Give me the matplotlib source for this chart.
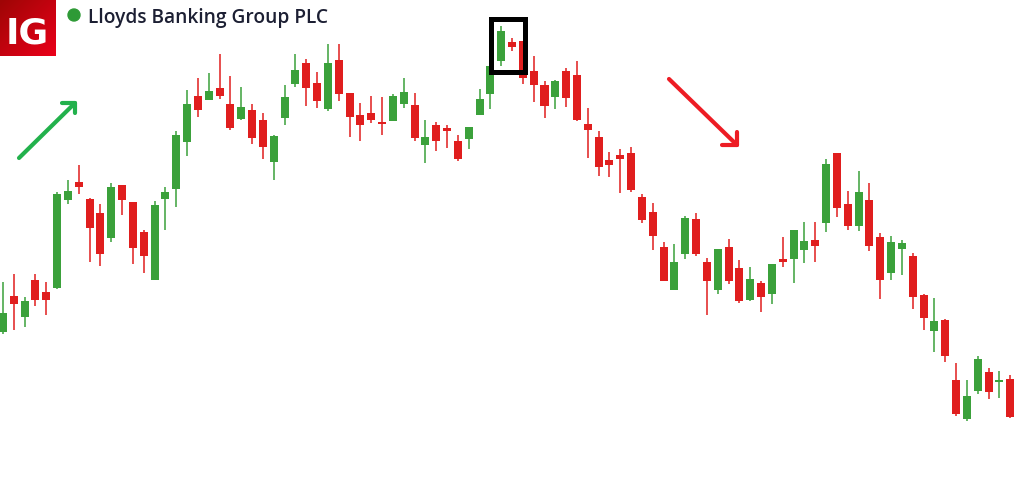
import numpy as np
import matplotlib
matplotlib.use("Agg")
import matplotlib.pyplot as plt
from matplotlib.lines import Line2D
from matplotlib.patches import Rectangle, Ellipse

# ---- data (price units) ----
opens = [154, 190, 169, 206, 194, 198, 286, 304, 287, 273, 248, 301, 284, 254, 206, 287, 297, 344, 390, 386,
         398, 382, 367, 376, 366, 324, 368, 402, 423, 403, 377, 426, 393, 371, 373, 363, 365, 382, 381, 341,
         361, 358, 345, 347, 371, 392, 425, 444, 445, 415, 401, 389, 415, 411, 362, 349, 326, 331, 333, 289,
         274, 239, 196, 232, 267, 224, 196, 239, 218, 186, 203, 192, 227, 227, 236, 246, 263, 333, 282, 260,
         286, 249, 213, 237, 230, 191, 155, 166, 106, 67, 95, 114, 104, 107]
highs = [204, 212, 189, 212, 204, 294, 306, 321, 288, 282, 303, 301, 284, 256, 285, 299, 355, 396, 408, 413,
         432, 410, 399, 382, 373, 351, 401, 432, 427, 414, 442, 442, 393, 383, 390, 389, 392, 408, 393, 366,
         364, 361, 351, 359, 397, 420, 460, 448, 445, 430, 405, 406, 418, 425, 378, 355, 334, 337, 339, 292,
         283, 244, 242, 270, 273, 228, 237, 247, 226, 219, 205, 222, 249, 256, 264, 264, 327, 333, 295, 315,
         303, 253, 250, 246, 233, 192, 188, 167, 123, 106, 130, 118, 115, 111]
lows = [152, 156, 159, 180, 171, 197, 282, 292, 224, 220, 244, 271, 222, 213, 206, 256, 279, 330, 369, 386,
        387, 356, 366, 342, 327, 306, 361, 399, 380, 378, 375, 385, 349, 345, 363, 351, 365, 378, 345, 323,
        335, 338, 325, 337, 371, 377, 420, 435, 402, 384, 368, 377, 379, 365, 328, 310, 309, 293, 294, 263,
        236, 205, 196, 227, 230, 171, 192, 202, 183, 185, 174, 182, 219, 203, 223, 224, 254, 269, 256, 255,
        235, 187, 206, 211, 177, 156, 134, 124, 70, 65, 92, 87, 88, 68]
closes = [173, 182, 185, 186, 186, 292, 295, 299, 258, 232, 299, 286, 238, 230, 281, 294, 351, 382, 376, 395,
          390, 358, 379, 348, 339, 350, 389, 416, 398, 385, 423, 392, 369, 361, 366, 362, 390, 394, 348, 349,
          345, 355, 327, 359, 387, 420, 455, 439, 408, 401, 380, 405, 388, 366, 356, 319, 321, 327, 296, 266,
          250, 205, 224, 268, 232, 205, 237, 205, 185, 207, 189, 222, 224, 256, 245, 240, 322, 278, 260, 294,
          240, 206, 244, 243, 189, 168, 165, 130, 72, 90, 127, 94, 106, 69]

title = "Lloyds Banking Group PLC"

GREEN = "#3ba13b"
RED = "#e01e1e"

W, H = 1017, 486
fig = plt.figure(figsize=(W / 100, H / 100), dpi=100)
ax = fig.add_axes([0, 0, 1, 1])
ax.set_axis_off()

n = len(opens)
x = np.arange(n)
o = np.array(opens, float)
c = np.array(closes, float)
hi = np.array(highs, float)
lo = np.array(lows, float)
up = c >= o
cols = np.where(up, GREEN, RED)

step = 10.83  # px per candle
ax.set_xlim(-3 / step, (W - 3) / step)
ax.set_ylim(0, H)

ax.vlines(x, lo, hi, colors=cols, linewidth=1.1, zorder=2)
bottom = np.minimum(o, c)
height = np.maximum(np.abs(c - o), 1.6)
ax.bar(x, height, bottom=bottom, width=0.74, color=cols, linewidth=0, zorder=3)

# ---- decorations in pixel coordinates ----
def P(px, py):
    return px / W, 1 - py / H

def pline(pts, color, lw):
    xs = [P(a, b)[0] for a, b in pts]
    ys = [P(a, b)[1] for a, b in pts]
    fig.add_artist(Line2D(xs, ys, transform=fig.transFigure, color=color, linewidth=lw,
                          solid_capstyle="round", solid_joinstyle="round", zorder=10))

AG = "#22b14c"
AR = "#ed1c24"
pline([(19, 158), (75, 103)], AG, 3.0)
pline([(62, 103), (75, 103), (75, 113)], AG, 3.0)
pline([(669, 79), (737, 145)], AR, 3.0)
pline([(722, 145), (737, 145), (737, 132)], AR, 3.0)

# highlight box
bx0, by0 = P(490.5, 72.5)
bx1, by1 = P(524.5, 19.5)
fig.add_artist(Rectangle((bx0, by0), bx1 - bx0, by1 - by0, transform=fig.transFigure,
                         fill=False, edgecolor="black", linewidth=3.6, joinstyle="miter", zorder=11))

# logo
lax = fig.add_axes([0, 1 - 56 / H, 56 / W, 56 / H])
lax.set_axis_off()
gy, gx = np.mgrid[0:1:64j, 0:1:64j]
t = np.clip((gx + (1 - gy)) / 2, 0, 1)  # 0 bottom-left .. 1 top-right
dark = np.array([0.62, 0.02, 0.02])
bright = np.array([0.92, 0.0, 0.10])
img = dark[None, None, :] * (1 - t[..., None]) + bright[None, None, :] * t[..., None]
lax.imshow(img[::-1], extent=[0, 1, 0, 1], origin="upper", aspect="auto")
lax.set_xlim(0, 1)
lax.set_ylim(0, 1)
lax.text(0.48, 0.41, "IG", color="white", fontsize=26, fontweight="bold",
         family="DejaVu Sans", ha="center", va="center")

# title
cx, cy = P(74, 15)
fig.add_artist(Ellipse((cx, cy), 12 / W, 12 / H, transform=fig.transFigure,
                       color="#2e9a36", zorder=10))
tx, ty = P(88, 23)
fig.text(tx, ty, title, fontsize=13.8, family="Open Sans", fontweight="semibold",
         color="#1c1f33", ha="left", va="baseline")

fig.savefig("out.png", dpi=100)
